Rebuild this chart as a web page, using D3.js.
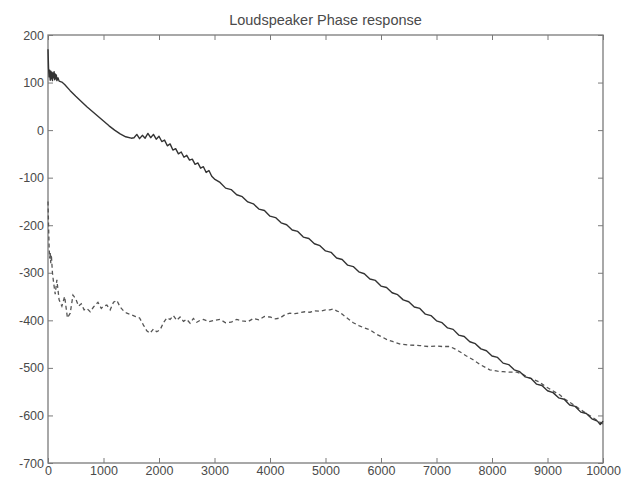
<!DOCTYPE html>
<html>
<head>
<meta charset="utf-8">
<script src="https://cdn.jsdelivr.net/npm/d3@7"></script>
<style>
  body { margin: 0; background: #fff; }
  svg { display: block; }
</style>
</head>
<body>
<div id="chart"></div>
<script>
// phase data (Hz, degrees)
const solidFreq = [0, 10, 20, 30, 40, 50, 60, 70, 80, 90, 100, 110, 120, 130, 140, 150, 160, 180, 200, 250, 300, 400, 500, 600, 700, 800, 900, 1000, 1100, 1200, 1300, 1400, 1500, 1550, 1600, 1650, 1700, 1750, 1800, 1850, 1900, 1950, 2000, 2050, 2100, 2150, 2200, 2250, 2300, 2350, 2400, 2450, 2500, 2550, 2600, 2650, 2700, 2750, 2800, 2850, 2900, 2950, 3000, 3100, 3200, 3300, 3400, 3500, 3600, 3700, 3800, 3900, 4000, 4100, 4200, 4300, 4400, 4500, 4600, 4700, 4800, 4900, 5000, 5100, 5200, 5300, 5400, 5500, 5600, 5700, 5800, 5900, 6000, 6100, 6200, 6300, 6400, 6500, 6600, 6700, 6800, 6900, 7000, 7100, 7200, 7300, 7400, 7500, 7600, 7700, 7800, 7900, 8000, 8100, 8200, 8300, 8400, 8500, 8600, 8700, 8800, 8900, 9000, 9100, 9200, 9300, 9400, 9500, 9600, 9700, 9800, 9900, 9950, 10000];
const solidPhase = [170, 130, 112, 126, 105, 124, 108, 122, 104, 120, 110, 123, 106, 118, 108, 116, 104, 110, 103, 101, 96, 83, 71, 60, 49, 39, 29, 19, 9, 0, -8, -14, -17, -16, -9, -18, -11, -17, -7, -16, -9, -19, -13, -24, -21, -33, -29, -42, -39, -50, -46, -57, -53, -63, -61, -72, -69, -80, -77, -89, -85, -97, -103, -110, -122, -125, -136, -140, -151, -155, -166, -169, -181, -184, -195, -199, -210, -213, -225, -228, -239, -243, -254, -257, -269, -272, -284, -287, -298, -302, -313, -316, -328, -331, -342, -346, -357, -361, -372, -375, -387, -390, -401, -405, -416, -419, -431, -434, -445, -449, -460, -464, -475, -478, -490, -493, -504, -508, -519, -522, -534, -537, -548, -552, -563, -566, -578, -581, -593, -596, -607, -612, -619, -612];

const dashFreq = [0, 10, 20, 30, 40, 50, 60, 80, 100, 130, 160, 200, 250, 300, 350, 400, 450, 500, 550, 600, 650, 700, 760, 820, 900, 960, 1000, 1060, 1120, 1180, 1240, 1300, 1360, 1420, 1500, 1580, 1650, 1720, 1780, 1840, 1900, 1960, 2020, 2080, 2140, 2200, 2260, 2320, 2380, 2440, 2500, 2560, 2620, 2680, 2740, 2800, 2900, 3000, 3100, 3200, 3300, 3400, 3500, 3600, 3700, 3800, 3900, 4000, 4100, 4180, 4270, 4360, 4450, 4540, 4630, 4720, 4810, 4900, 5000, 5080, 5150, 5200, 5260, 5320, 5400, 5500, 5600, 5700, 5800, 5900, 6000, 6100, 6220, 6350, 6520, 6700, 6850, 7000, 7100, 7240, 7330, 7420, 7540, 7660, 7800, 7960, 8100, 8200, 8320, 8450, 8550, 8650, 8760, 8860, 8950, 9050, 9150, 9225, 9300, 9400, 9500, 9600, 9700, 9800, 9900, 10000];
const dashPhase = [-150, -200, -245, -270, -258, -280, -262, -300, -320, -345, -315, -357, -370, -350, -395, -385, -347, -355, -370, -365, -378, -375, -382, -372, -362, -375, -370, -368, -378, -362, -358, -372, -380, -385, -388, -392, -395, -410, -422, -427, -418, -424, -420, -405, -395, -398, -390, -400, -393, -402, -398, -406, -396, -404, -400, -398, -403, -400, -398, -405, -404, -398, -401, -403, -396, -399, -392, -393, -397, -395, -388, -385, -386, -384, -382, -383, -380, -381, -378, -378, -376, -380, -383, -389, -396, -405, -411, -416, -420, -428, -434, -440, -445, -450, -452, -453, -455, -454, -455, -455, -460, -466, -475, -483, -494, -504, -507, -508, -509, -509, -513, -520, -525, -530, -538, -545, -552, -557, -565, -572, -580, -588, -596, -603, -611, -618];

const xTicks = d3.range(0, 10001, 1000);
const yTicks = d3.range(-700, 201, 100);
const title = "Loudspeaker Phase response";

const width = 623, height = 479;
const margin = { left: 48, right: 20, top: 35, bottom: 16 };

const svg = d3.select("#chart").append("svg")
  .attr("width", width)
  .attr("height", height);

const x = d3.scaleLinear().domain([0, 10000]).range([margin.left, width - margin.right]);
const y = d3.scaleLinear().domain([-700, 200]).range([height - margin.bottom, margin.top]);

const axisColor = "#7a7a7a";
const textColor = "#4a4a4a";
const font = "Liberation Sans, Arial, sans-serif";

// box
svg.append("rect")
  .attr("x", x(0)).attr("y", y(200))
  .attr("width", x(10000) - x(0)).attr("height", y(-700) - y(200))
  .attr("fill", "none").attr("stroke", axisColor).attr("stroke-width", 1.3);

// inward ticks on all four sides
const tickLen = 5;
const xBottom = d3.axisBottom(x).tickValues(xTicks).tickSize(-tickLen).tickFormat(d => d).tickPadding(3);
const xTop = d3.axisTop(x).tickValues(xTicks).tickSize(-tickLen).tickFormat("");
const yLeft = d3.axisLeft(y).tickValues(yTicks).tickSize(-tickLen).tickFormat(d => d).tickPadding(4);
const yRight = d3.axisRight(y).tickValues(yTicks).tickSize(-tickLen).tickFormat("");

function styleAxis(g) {
  g.select(".domain").remove();
  g.selectAll(".tick line").attr("stroke", axisColor).attr("stroke-width", 1);
  g.selectAll(".tick text")
    .attr("fill", textColor)
    .attr("font-family", font)
    .attr("font-size", "12.5px");
}

svg.append("g").attr("transform", `translate(0,${y(-700)})`).call(xBottom).call(styleAxis);
svg.append("g").attr("transform", `translate(0,${y(200)})`).call(xTop).call(styleAxis);
svg.append("g").attr("transform", `translate(${x(0)},0)`).call(yLeft).call(styleAxis);
svg.append("g").attr("transform", `translate(${x(10000)},0)`).call(yRight).call(styleAxis);

const line = d3.line().x(d => x(d[0])).y(d => y(d[1]));

svg.append("path")
  .datum(dashFreq.map((f, i) => [f, dashPhase[i]]))
  .attr("d", line)
  .attr("fill", "none")
  .attr("stroke", "#555")
  .attr("stroke-width", 1.3)
  .attr("stroke-dasharray", "4,3");

svg.append("path")
  .datum(solidFreq.map((f, i) => [f, solidPhase[i]]))
  .attr("d", line)
  .attr("fill", "none")
  .attr("stroke", "#333")
  .attr("stroke-width", 1.4)
  .attr("stroke-linejoin", "round");

svg.append("text")
  .attr("x", (x(0) + x(10000)) / 2)
  .attr("y", 25)
  .attr("text-anchor", "middle")
  .attr("fill", textColor)
  .attr("font-family", font)
  .attr("font-size", "14.5px")
  .text(title);
</script>
</body>
</html>
